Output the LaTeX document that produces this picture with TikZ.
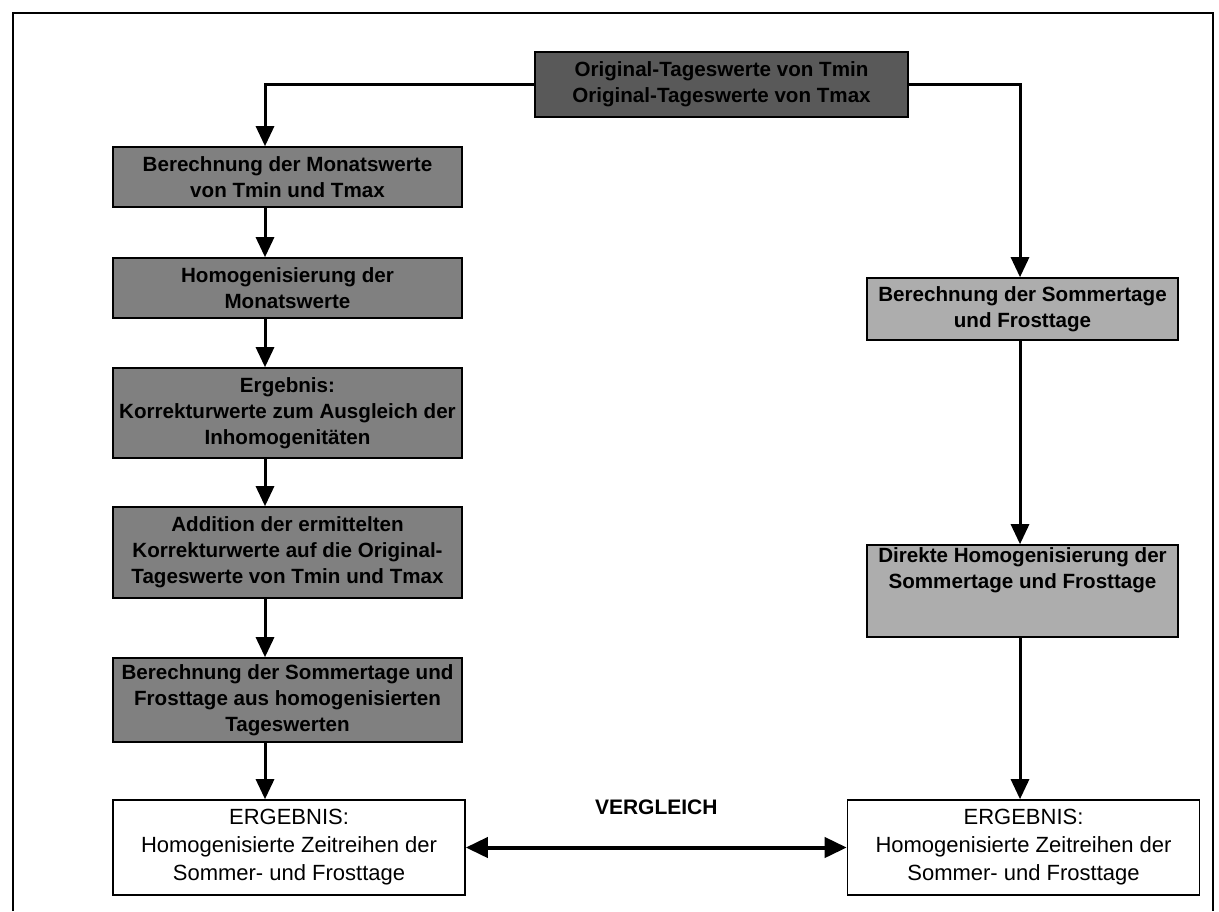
\documentclass[tikz,border=0pt]{standalone}
\usepackage{fontspec}
\setsansfont{Liberation Sans}
\usetikzlibrary{arrows.meta}

\begin{document}
\begin{tikzpicture}[
  x=0.5pt, y=-0.5pt,
  box/.style={rectangle, draw, line width=0.8pt, align=center, inner sep=1pt, font=\sffamily\bfseries\fontsize{10.3}{13}\selectfont},
  topbox/.style={box, fill=black!65, minimum width=186.5pt, minimum height=32.5pt, line width=1.3pt},
  leftbox/.style={box, fill=black!50, minimum width=174.5pt},
  rightbox/.style={box, fill=black!32, minimum width=155.5pt},
  resbox/.style={rectangle, draw, line width=0.8pt, align=center, fill=white, minimum width=176pt, minimum height=47.5pt, font=\sffamily\fontsize{11}{14}\selectfont},
  arr/.style={-{Triangle[width=9pt,length=10pt]}, line width=1.5pt},
  font=\small
]
\useasboundingbox (0,0) rectangle (1219,911);
\draw[line width=1pt] (13,911) -- (13,13) -- (1213,13) -- (1213,911);

\node[topbox] (orig) at (721.5,84.5) {Original-Tageswerte von Tmin\\Original-Tageswerte von Tmax};

\node[leftbox, minimum height=30pt] (l_month) at (287.5,177) {Berechnung der Monatswerte\\von Tmin und Tmax};
\node[leftbox, minimum height=30pt] (l_homog) at (287.5,288) {Homogenisierung der\\Monatswerte};
\node[leftbox, minimum height=45pt] (l_korr) at (287.5,413) {Ergebnis:\\Korrekturwerte zum Ausgleich der\\Inhomogenitäten};
\node[leftbox, minimum height=45.5pt] (l_add) at (287.5,552.5) {Addition der ermittelten\\Korrekturwerte auf die Original-\\Tageswerte von Tmin und Tmax};
\node[leftbox, minimum height=42pt] (l_days) at (287.5,700) {Berechnung der Sommertage und\\Frosttage aus homogenisierten\\Tageswerten};
\node[resbox] (l_res) at (289,847.5) {ERGEBNIS:\\Homogenisierte Zeitreihen der\\Sommer- und Frosttage};

\node[rightbox, minimum height=31pt] (r_days) at (1022.5,309) {Berechnung der Sommertage\\und Frosttage};
\node[rightbox, minimum height=46pt] (r_homog) at (1022.5,591) {Direkte Homogenisierung der\\Sommertage und Frosttage\\[10pt]};
\node[resbox] (r_res) at (1023.5,847.5) {ERGEBNIS:\\Homogenisierte Zeitreihen der\\Sommer- und Frosttage};

\coordinate (colL) at (265,0);
\coordinate (colR) at (1020,0);

\draw[arr] (orig.west) -- (orig.west -| colL) -- (l_month.north -| colL);
\draw[arr] (orig.east) -- (orig.east -| colR) -- (r_days.north -| colR);
\draw[arr] (l_month.south -| colL) -- (l_homog.north -| colL);
\draw[arr] (l_homog.south -| colL) -- (l_korr.north -| colL);
\draw[arr] (l_korr.south -| colL) -- (l_add.north -| colL);
\draw[arr] (l_add.south -| colL) -- (l_days.north -| colL);
\draw[arr] (l_days.south -| colL) -- (l_res.north -| colL);
\draw[arr] (r_days.south -| colR) -- (r_homog.north -| colR);
\draw[arr] (r_homog.south -| colR) -- (r_res.north -| colR);
\draw[{Triangle[width=10pt,length=11pt]}-{Triangle[width=10pt,length=11pt]}, line width=2pt] (l_res) -- node[above=12pt, font=\sffamily\bfseries\fontsize{10.5}{12}\selectfont] (cmp) {VERGLEICH} (r_res);
\end{tikzpicture}
\end{document}
